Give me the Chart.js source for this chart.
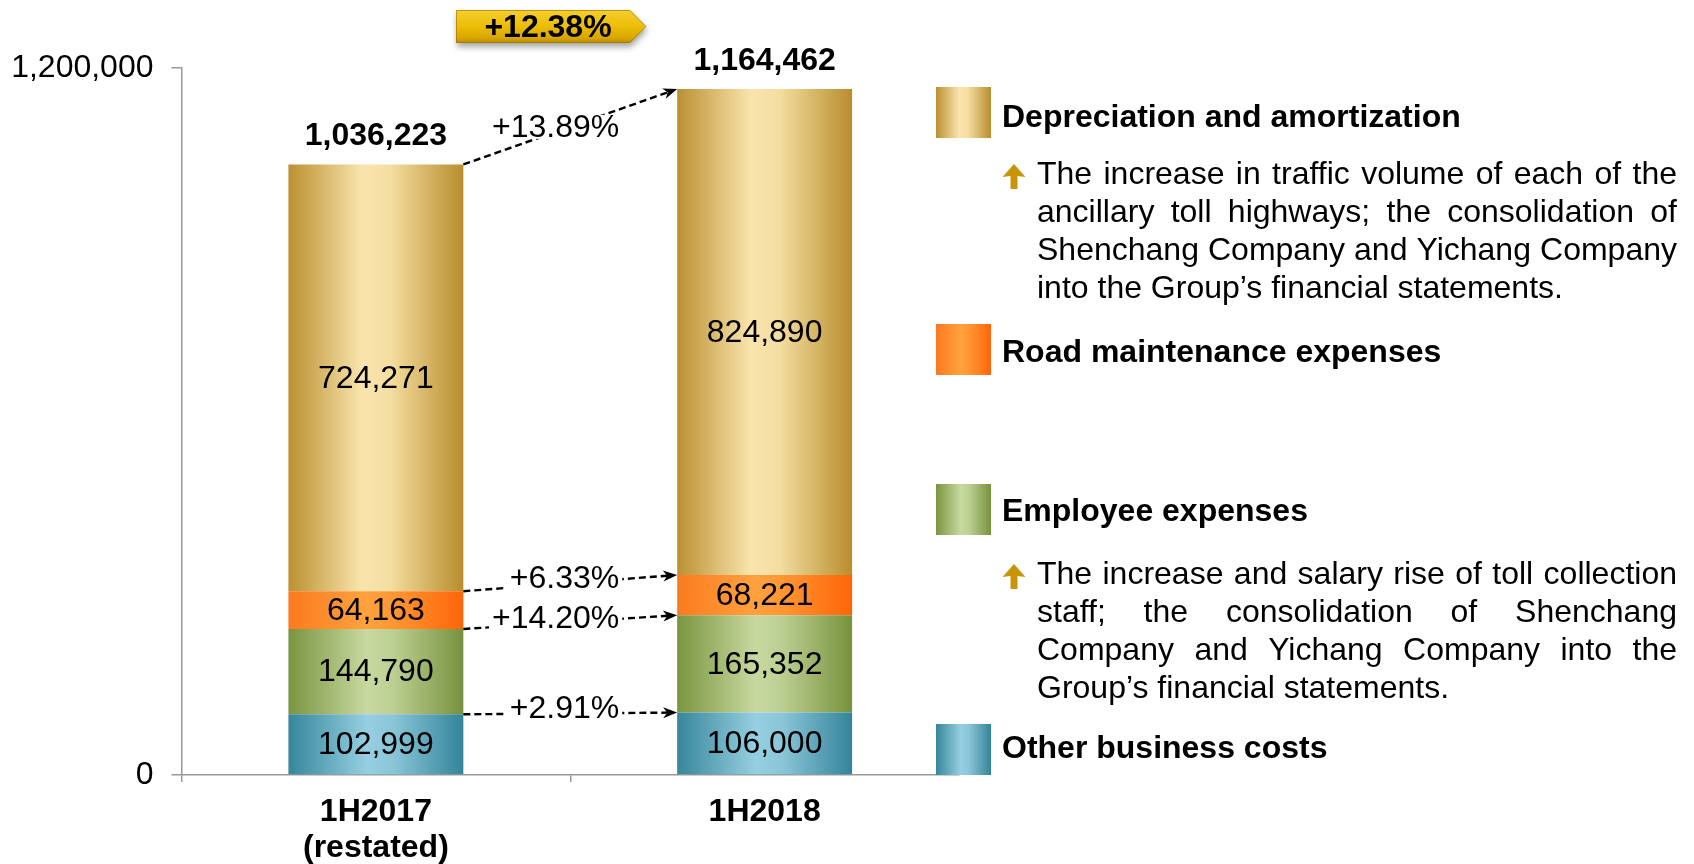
<!DOCTYPE html>
<html><head><meta charset="utf-8">
<script src="https://cdn.jsdelivr.net/npm/chart.js@4.4.0/dist/chart.umd.min.js"></script>
<style>html,body{margin:0;padding:0;background:#fff;}canvas{display:block;}</style>
</head><body>
<canvas id="c" width="1694" height="864"></canvas>
<script>
// ---------- data ----------
const categories = [['1H2017', '(restated)'], '1H2018'];
const seriesNames = ['Other business costs', 'Employee expenses', 'Road maintenance expenses', 'Depreciation and amortization'];
const otherCosts   = [102999, 106000];
const employeeExp  = [144790, 165352];
const roadMaint    = [64163, 68221];
const depreciation = [724271, 824890];
const totals       = [1036223, 1164462];
const segmentChanges = ['+2.91%', '+14.20%', '+6.33%', '+13.89%']; // same order as seriesNames
const totalChange = '+12.38%';
const yTickValues = [0, 1200000];
const depreciationNotes = [
  'The increase in traffic volume of each of the',
  'ancillary toll highways; the consolidation of',
  'Shenchang Company and Yichang Company',
  'into the Group\u2019s financial statements.'
];
const employeeNotes = [
  'The increase and salary rise of toll collection',
  'staff; the consolidation of Shenchang',
  'Company and Yichang Company into the',
  'Group\u2019s financial statements.'
];

// ---------- styles ----------
const FONT = '"Liberation Sans", Arial, Helvetica, sans-serif';
const BAR_PCT = 0.45;
const gradStops = [
  [[0, '#37869b'], [0.45, '#96cfe1'], [0.6, '#8ac5d8'], [1, '#33849a']],
  [[0, '#7a9540'], [0.45, '#c8d9a0'], [0.6, '#bccf92'], [1, '#77923d']],
  [[0, '#fb7a1f'], [0.45, '#ffa23e'], [0.6, '#ff9634'], [1, '#ff6508']],
  [[0, '#bb9031'], [0.42, '#f9e4ad'], [0.58, '#f5dea1'], [1, '#b88d2d']]
];
const AXIS_COLOR = '#999999';

function barGradient(stops) {
  return (ctx) => {
    if (ctx.type !== 'data') return stops[1][1];
    const chart = ctx.chart;
    const xs = chart.scales.x;
    if (!xs || !chart.chartArea) return stops[1][1];
    const cx = xs.getPixelForValue(ctx.dataIndex);
    const half = (xs.width / categories.length) * BAR_PCT / 2;
    if (!isFinite(cx)) return stops[1][1];
    const g = chart.ctx.createLinearGradient(cx - half, 0, cx + half, 0);
    stops.forEach(([o, c]) => g.addColorStop(o, c));
    return g;
  };
}

const seriesData = [otherCosts, employeeExp, roadMaint, depreciation];
const datasets = seriesData.map((d, i) => ({
  label: seriesNames[i],
  data: d,
  backgroundColor: barGradient(gradStops[i]),
  borderWidth: 0,
  categoryPercentage: 1,
  barPercentage: BAR_PCT
}));

const fmt = v => v.toLocaleString('en-US');

function drawDashedArrow(ctx, x1, y1, x2, y2) {
  const ang = Math.atan2(y2 - y1, x2 - x1);
  const headLen = 14;
  const ex = x2 - Math.cos(ang) * (headLen - 4), ey = y2 - Math.sin(ang) * (headLen - 4);
  ctx.save();
  ctx.strokeStyle = '#000';
  ctx.lineWidth = 2.4;
  ctx.setLineDash([7, 4]);
  ctx.beginPath(); ctx.moveTo(x1, y1); ctx.lineTo(ex, ey); ctx.stroke();
  ctx.setLineDash([]);
  ctx.fillStyle = '#000';
  ctx.translate(x2, y2); ctx.rotate(ang);
  ctx.beginPath();
  ctx.moveTo(0, 0);
  ctx.lineTo(-headLen, -5.5);
  ctx.lineTo(-headLen + 4, 0);
  ctx.lineTo(-headLen, 5.5);
  ctx.closePath();
  ctx.fill();
  ctx.restore();
}

function drawJustified(ctx, lines, x, y0, width, lh) {
  lines.forEach((line, i) => {
    const y = y0 + i * lh;
    const words = line.split(' ');
    if (i === lines.length - 1 || words.length < 2) {
      ctx.textAlign = 'left'; ctx.fillText(line, x, y); return;
    }
    const wordsW = words.reduce((s, w) => s + ctx.measureText(w).width, 0);
    const gap = (width - wordsW) / (words.length - 1);
    let cx = x;
    ctx.textAlign = 'left';
    words.forEach(w => { ctx.fillText(w, cx, y); cx += ctx.measureText(w).width + gap; });
  });
}

function drawUpArrow(ctx, cx, top) {
  ctx.save();
  ctx.fillStyle = '#c8950a';
  ctx.beginPath();
  ctx.moveTo(cx, top);
  ctx.lineTo(cx + 11.5, top + 13);
  ctx.lineTo(cx + 3.5, top + 12);
  ctx.lineTo(cx + 3.5, top + 25);
  ctx.lineTo(cx - 3.5, top + 25);
  ctx.lineTo(cx - 3.5, top + 12);
  ctx.lineTo(cx - 11.5, top + 13);
  ctx.closePath();
  ctx.fill();
  ctx.restore();
}

const overlayPlugin = {
  id: 'overlay',
  afterDatasetsDraw(chart) {
    const ctx = chart.ctx;
    const metas = chart.data.datasets.map((d, i) => chart.getDatasetMeta(i));
    ctx.save();
    ctx.textBaseline = 'middle';
    // values inside segments
    ctx.font = `32px ${FONT}`;
    ctx.fillStyle = '#000';
    ctx.textAlign = 'center';
    metas.forEach(meta => meta.data.forEach((el, j) => {
      const p = el.getProps(['x', 'y', 'base'], true);
      const v = chart.data.datasets[meta.index].data[j];
      ctx.fillText(fmt(v), p.x, (p.y + p.base) / 2 + 1);
    }));
    // totals above bars
    ctx.font = `bold 32px ${FONT}`;
    const topMeta = metas[metas.length - 1];
    topMeta.data.forEach((el, i) => {
      const p = el.getProps(['x', 'y'], true);
      ctx.fillText(fmt(totals[i]), p.x, p.y - 28);
    });
    // change arrows
    ctx.font = `32px ${FONT}`;
    metas.forEach((meta, di) => {
      const l = meta.data[0].getProps(['x', 'y', 'width'], true);
      const r = meta.data[1].getProps(['x', 'y', 'width'], true);
      const x1 = l.x + l.width / 2, y1 = l.y, x2 = r.x - r.width / 2, y2 = r.y;
      drawDashedArrow(ctx, x1, y1, x2, y2);
      const txt = segmentChanges[di];
      const tw = ctx.measureText(txt).width;
      const right = (x1 + x2) / 2 + 49;
      const tcx = right - tw / 2;
      const ty = y1 + (y2 - y1) * (tcx - x1) / (x2 - x1) - 5;
      ctx.fillStyle = '#fff';
      ctx.fillRect(right - tw - 3, ty - 12, tw + 6, 24);
      ctx.fillStyle = '#000';
      ctx.textAlign = 'right';
      ctx.fillText(txt, right, ty + 1);
    });
    ctx.restore();
  },
  afterDraw(chart) {
    const ctx = chart.ctx;
    ctx.save();
    // total change badge
    const bx = 456, by = 10, bw = 174, bh = 33, tip = 16;
    ctx.save();
    ctx.shadowColor = 'rgba(0,0,0,0.35)';
    ctx.shadowBlur = 6; ctx.shadowOffsetY = 4; ctx.shadowOffsetX = 1;
    const bg = ctx.createLinearGradient(0, by, 0, by + bh);
    bg.addColorStop(0, '#f6cf2c'); bg.addColorStop(0.5, '#ecbd08'); bg.addColorStop(0.85, '#d8a600'); bg.addColorStop(1, '#b88c00');
    ctx.fillStyle = bg;
    ctx.beginPath();
    ctx.moveTo(bx, by); ctx.lineTo(bx + bw, by); ctx.lineTo(bx + bw + tip, by + bh / 2);
    ctx.lineTo(bx + bw, by + bh); ctx.lineTo(bx, by + bh); ctx.closePath();
    ctx.fill();
    ctx.restore();
    ctx.strokeStyle = 'rgba(150,110,0,0.6)'; ctx.lineWidth = 1;
    ctx.beginPath();
    ctx.moveTo(bx + 0.5, by + 0.5); ctx.lineTo(bx + bw, by + 0.5); ctx.lineTo(bx + bw + tip, by + bh / 2);
    ctx.lineTo(bx + bw, by + bh - 0.5); ctx.lineTo(bx + 0.5, by + bh - 0.5); ctx.closePath(); ctx.stroke();
    ctx.fillStyle = '#000';
    ctx.font = `bold 32px ${FONT}`;
    ctx.textAlign = 'center'; ctx.textBaseline = 'middle';
    ctx.fillText(totalChange, 548, by + bh / 2 + 1.5);

    // legend
    const legendOrder = [3, 2, 1, 0];
    const sqTops = [87, 324, 484, 724];
    const labelDy = [6, 4, 3, 0];
    const sqX = 936, sqW = 55, sqH = 51;
    legendOrder.forEach((di, k) => {
      const top = sqTops[k];
      const g = ctx.createLinearGradient(sqX, 0, sqX + sqW, 0);
      gradStops[di].forEach(([o, c]) => g.addColorStop(o, c));
      ctx.fillStyle = g;
      ctx.fillRect(sqX, top, sqW, sqH);
      ctx.fillStyle = '#000';
      ctx.font = `bold 32px ${FONT}`;
      ctx.textAlign = 'left';
      ctx.fillText(chart.data.datasets[di].label, 1002, top + sqH / 2 + labelDy[k]);
    });
    // notes
    ctx.font = `32px ${FONT}`;
    ctx.fillStyle = '#000';
    drawJustified(ctx, depreciationNotes, 1037, 175, 640, 38);
    drawJustified(ctx, employeeNotes, 1037, 575, 640, 38);
    drawUpArrow(ctx, 1014, 164);
    drawUpArrow(ctx, 1014, 564);
    ctx.restore();
  }
};

new Chart(document.getElementById('c'), {
  type: 'bar',
  data: { labels: categories, datasets },
  options: {
    responsive: false,
    devicePixelRatio: 1,
    animation: false,
    layout: { padding: { left: 0, right: 735, top: 68, bottom: 0 } },
    plugins: { legend: { display: false }, tooltip: { enabled: false } },
    scales: {
      x: {
        stacked: true,
        afterFit: s => { s.height = 89; },
        grid: {
          display: true, drawOnChartArea: false, drawTicks: true, tickLength: 7, offset: true,
          lineWidth: 1.5,
          color: c => (c.type === 'tick' ? AXIS_COLOR : 'rgba(0,0,0,0)')
        },
        border: { display: true, color: AXIS_COLOR, width: 1.5 },
        ticks: {
          padding: 12, color: '#000', maxRotation: 0, autoSkip: false,
          font: { size: 32, weight: 'bold', family: FONT, lineHeight: 1.125 }
        }
      },
      y: {
        stacked: true, min: 0, max: 1200000,
        afterFit: s => { s.width = 181.5; },
        afterBuildTicks: s => { s.ticks = yTickValues.map(v => ({ value: v })); },
        grid: { display: true, drawOnChartArea: false, drawTicks: true, tickLength: 10, color: AXIS_COLOR, lineWidth: 1.5 },
        border: { display: true, color: AXIS_COLOR, width: 1.5 },
        ticks: { padding: 18, color: '#000', font: { size: 32, family: FONT }, callback: v => fmt(v) }
      }
    }
  },
  plugins: [overlayPlugin]
});
</script>
</body></html>
